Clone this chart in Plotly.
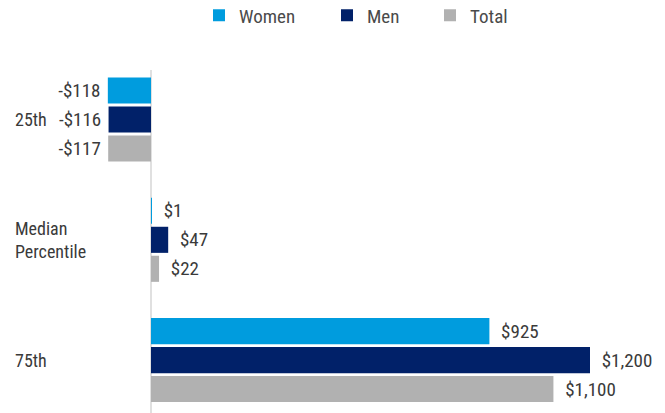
import plotly.graph_objects as go

categories = ["25th", "Median Percentile", "75th"]
category_labels = ["25th", "Median<br>Percentile", "75th"]
series_names = ["Women", "Men", "Total"]
women = [-118, 1, 925]
men = [-116, 47, 1200]
total = [-117, 22, 1100]
colors = ["#009cde", "#012169", "#b1b1b1"]

OFF = 8  # page body margin
W, H = 665, 413
# desired plot area in page pixels
P_LEFT, P_RIGHT, P_TOP, P_BOTTOM = 55, 648, 70, 413
ML = P_LEFT - OFF
MR = W - (P_RIGHT - OFF)
MT = P_TOP - OFF
MB = H - (P_BOTTOM - OFF)
FONT = "Roboto Condensed, Liberation Sans Narrow, Arial Narrow, Roboto, sans-serif"
TXT = "#3a3a3a"


def fmt(v):
    s = f"${abs(v):,}"
    return ("-" + s + "\u00a0") if v < 0 else ("\u00a0\u00a0" + s)


fig = go.Figure()
for i, (name, vals) in enumerate(zip(series_names, [women, men, total])):
    fig.add_trace(go.Bar(
        y=categories, x=vals, name=name, orientation="h",
        marker=dict(color=colors[i], line=dict(width=0)),
        text=[fmt(v) for v in vals], textposition="outside",
        textfont=dict(family=FONT, size=19, color=TXT),
        cliponaxis=False, constraintext="none",
        legend="legend" if i == 0 else f"legend{i+1}",
        hoverinfo="skip",
    ))

pw = W - ML - MR
legend_px = [199, 327, 430]
legends = {}
for i, px in enumerate(legend_px):
    key = "legend" if i == 0 else f"legend{i+1}"
    legends[key] = dict(
        xref="container", yref="container",
        x=(px - OFF) / W, xanchor="left", y=1 - (15.5 - OFF) / H, yanchor="middle",
        orientation="h", font=dict(family=FONT, size=19, color="#4a4a4a"),
        bgcolor="rgba(0,0,0,0)", itemwidth=30, tracegroupgap=0,
    )

annotations = []
for cat, lab in zip(categories, category_labels):
    annotations.append(dict(
        xref="paper", yref="y", x=(13 - P_LEFT) / pw, y=cat, xanchor="left", yanchor="middle",
        text=lab, showarrow=False, align="left",
        font=dict(family=FONT, size=18, color=TXT),
    ))

zero_px = 151
scale = (590 - zero_px) / 1200.0
xmin = -(zero_px - P_LEFT) / scale
xmax = (P_RIGHT - zero_px) / scale

fig.update_layout(
    width=W, height=H, margin=dict(l=ML, r=MR, t=MT, b=MB, autoexpand=False),
    paper_bgcolor="white", plot_bgcolor="white",
    barmode="group", bargap=0.277, bargroupgap=0.1,
    showlegend=True,
    annotations=annotations,
    xaxis=dict(range=[xmin, xmax], showgrid=False, showticklabels=False, ticks="",
               zeroline=True, zerolinecolor="#e0e0e0", zerolinewidth=2, fixedrange=True),
    yaxis=dict(range=[2.44, -0.412], showgrid=False, showticklabels=False, ticks="",
               zeroline=False, fixedrange=True),
    **legends,
)

fig.write_html("out.html")
